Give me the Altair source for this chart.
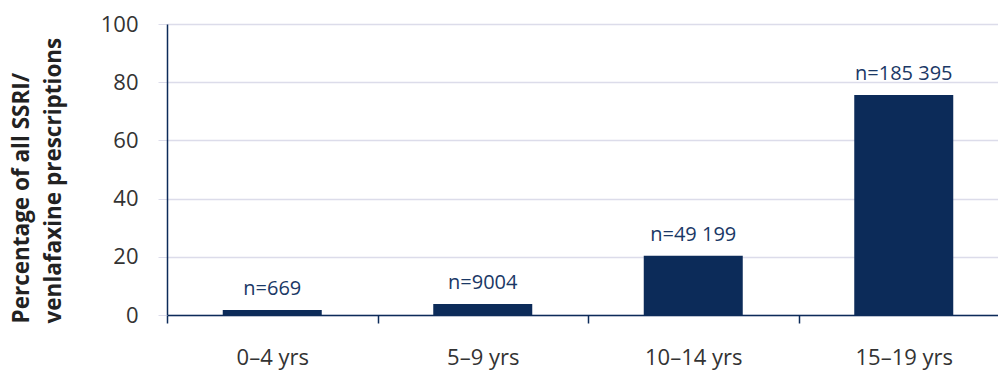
import altair as alt
import pandas as pd

age_groups = ["0–4 yrs", "5–9 yrs", "10–14 yrs", "15–19 yrs"]
percentages = [1.7, 3.8, 20.4, 75.6]
n_labels = ["n=669", "n=9004", "n=49 199", "n=185 395"]

df = pd.DataFrame({"age": age_groups, "pct": percentages, "label": n_labels})

NAVY = "#0c2b59"
GRID = "#dcdcea"
FONT = "Open Sans"

x = alt.X(
    "age:N",
    sort=age_groups,
    scale=alt.Scale(range=[0, 842], paddingInner=0, paddingOuter=0),
    axis=alt.Axis(
        title=None,
        labelAngle=0,
        labelFont=FONT,
        labelFontSize=22,
        labelColor="#333333",
        labelPadding=24,
        tickBand="extent",
        tickSize=8,
        tickColor=NAVY,
        tickWidth=1.5,
        domainColor=NAVY,
        domainWidth=1.5,
        grid=False,
    ),
)

y = alt.Y(
    "pct:Q",
    scale=alt.Scale(domain=[0, 100], nice=False),
    axis=alt.Axis(
        values=[0, 20, 40, 60, 80, 100],
        title=["Percentage of all SSRI/", "venlafaxine prescriptions"],
        titleFont=FONT,
        titleFontSize=22.5,
        titleFontWeight="bold",
        titleColor="#222222",
        titleAngle=-90,
        titleAlign="left",
        titleBaseline="top",
        titleX=-157,
        titleY=299,
        titleLineHeight=32,
        labelFont=FONT,
        labelFontSize=22,
        labelColor="#333333",
        labelPadding=20,
        tickSize=9,
        tickColor=GRID,
        domainColor=NAVY,
        domainWidth=1.5,
        grid=True,
        gridColor=GRID,
        gridWidth=1.5,
    ),
)

bars = alt.Chart(df).mark_bar(color=NAVY, width=99).encode(x=x, y=y)

text = alt.Chart(df).mark_text(
    font=FONT, fontSize=20, fontWeight=500, color="#1a3866", baseline="bottom", dy=-11
).encode(x=alt.X("age:N", sort=age_groups), y="pct:Q", text="label:N")

chart = (
    alt.layer(bars, text)
    .properties(
        width=831,
        height=291,
        autosize=alt.AutoSizeParams(type="none"),
        padding={"left": 167, "top": 24, "right": 0, "bottom": 57},
    )
    .configure_view(stroke=None)
)

chart.save("out.html", embed_options={"renderer": "svg", "actions": False})
